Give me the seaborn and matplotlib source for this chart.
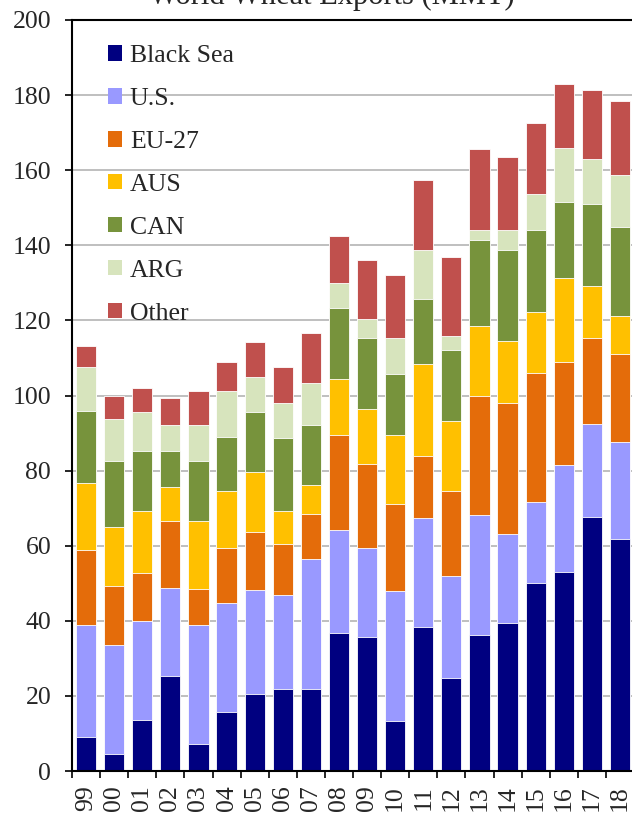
import pandas as pd
import numpy as np
import matplotlib
matplotlib.use("Agg")
import matplotlib.pyplot as plt
import seaborn as sns
from matplotlib.patches import Patch
from matplotlib.ticker import FixedLocator

# World wheat exports (MMT) by origin
years = ["99", "00", "01", "02", "03", "04", "05", "06", "07", "08",
         "09", "10", "11", "12", "13", "14", "15", "16", "17", "18"]
black_sea = [9.0, 4.5, 13.6, 25.3, 7.2, 15.8, 20.5, 21.8, 21.8, 36.8,
             35.8, 13.2, 38.4, 24.7, 36.3, 39.4, 50.1, 53.1, 67.7, 61.7]
us = [29.8, 29.1, 26.3, 23.4, 31.6, 28.9, 27.7, 25.1, 34.7, 27.5,
      23.7, 34.8, 29.0, 27.2, 31.9, 23.7, 21.5, 28.3, 24.7, 25.9]
eu27 = [20.1, 15.8, 12.9, 17.9, 9.8, 14.6, 15.4, 13.6, 11.9, 25.3,
        22.3, 23.1, 16.5, 22.8, 31.6, 35.0, 34.3, 27.5, 23.0, 23.4]
aus = [17.7, 15.6, 16.4, 9.1, 18.1, 15.2, 16.0, 8.7, 7.8, 14.7,
       14.7, 18.5, 24.6, 18.4, 18.6, 16.5, 16.4, 22.4, 13.8, 10.1]
can = [19.3, 17.6, 16.0, 9.5, 15.9, 14.5, 15.9, 19.5, 15.9, 18.9,
       18.9, 16.2, 17.2, 18.9, 23.1, 24.1, 21.9, 20.2, 21.9, 23.9]
arg = [11.8, 11.2, 10.3, 6.9, 9.5, 12.1, 9.4, 9.4, 11.2, 6.7,
       5.1, 9.6, 13.0, 3.8, 2.7, 5.5, 9.4, 14.3, 12.0, 13.8]
other = [5.6, 6.2, 6.5, 7.3, 9.0, 7.8, 9.4, 9.4, 13.3, 12.5,
         15.5, 16.8, 18.8, 21.1, 21.4, 19.3, 19.0, 17.2, 18.3, 19.6]

series = ["Black Sea", "U.S.", "EU-27", "AUS", "CAN", "ARG", "Other"]
colors = ["#000080", "#9999FF", "#E46C0A", "#FFC000", "#77933C", "#D7E4BD", "#C0504D"]

df = pd.DataFrame({"Year": years, "Black Sea": black_sea, "U.S.": us, "EU-27": eu27,
                   "AUS": aus, "CAN": can, "ARG": arg, "Other": other})
cum = df[series].cumsum(axis=1)
cum["Year"] = df["Year"]

sns.set_theme(style="white")
plt.rcParams["font.family"] = ["Liberation Serif", "DejaVu Serif"]

fig = plt.figure(figsize=(6.32, 8.15), dpi=100)
ax = fig.add_axes([72 / 632, 44 / 815, 562 / 632, 751 / 815])

# stacked bars: draw cumulative totals from the top series down
for name, col in reversed(list(zip(series, colors))):
    sns.barplot(data=cum, x="Year", y=name, color=col, width=0.72,
                edgecolor="white", linewidth=0.6, saturation=1, ax=ax, zorder=2)

ax.set_ylim(0, 200)
ax.set_xlim(-0.5, 19.5)
ax.set_yticks(np.arange(0, 201, 20))
ax.yaxis.grid(True, color="#BFBFBF", linewidth=1.4, zorder=0)
ax.set_axisbelow(True)
ax.set_xlabel("")
ax.set_ylabel("")

for s in ["left", "top", "bottom"]:
    ax.spines[s].set_color("black")
    ax.spines[s].set_linewidth(1.5)
ax.spines["right"].set_visible(False)

ax.tick_params(axis="y", which="major", direction="out", length=5, width=1.2,
               color="black", labelsize=18.5, pad=10, left=True)
ax.set_xticks(range(len(years)))
ax.set_xticklabels(years, rotation=90)
ax.xaxis.set_minor_locator(FixedLocator(np.arange(-0.5, 20, 1)))
ax.tick_params(axis="x", which="major", length=0, labelsize=18.5, pad=10)
ax.tick_params(axis="x", which="minor", direction="out", length=5, width=1.2,
               color="black", bottom=True)

handles = [Patch(facecolor=c, edgecolor="none") for c in colors]
ax.legend(handles, series, loc="upper left", bbox_to_anchor=(36 / 562, 1 - 25 / 751),
          frameon=False, fontsize=18.5, handlelength=0.55, handleheight=0.55,
          handletextpad=0.3, labelspacing=0.815, borderaxespad=0, borderpad=0)

fig.text(0.525, 1 - 4 / 815, "World Wheat Exports (MMT)", ha="center", va="baseline",
         fontsize=22)

fig.savefig("out.png", dpi=100)
